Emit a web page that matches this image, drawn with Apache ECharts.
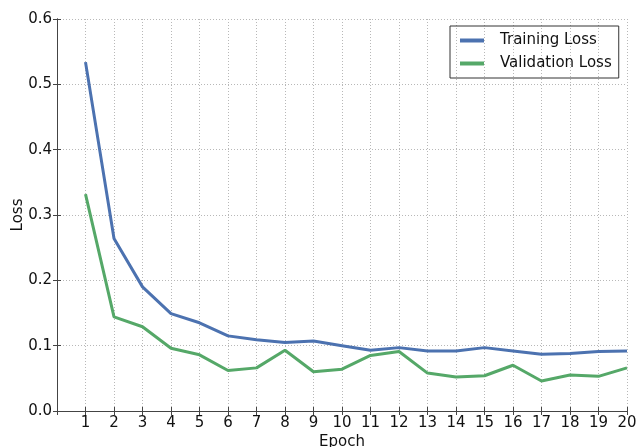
<!DOCTYPE html>
<html>
<head>
<meta charset="utf-8">
<script src="https://cdn.jsdelivr.net/npm/echarts@6/dist/echarts.min.js"></script>
<style>html,body{margin:0;padding:0;background:#fff;}#c{width:637px;height:447px;}</style>
</head>
<body>
<div id="c"></div>
<script>
const epochs = [1,2,3,4,5,6,7,8,9,10,11,12,13,14,15,16,17,18,19,20];
const trainingLoss = [0.534,0.264,0.190,0.149,0.135,0.115,0.109,0.105,0.107,0.100,0.093,0.097,0.092,0.092,0.097,0.092,0.087,0.088,0.091,0.092];
const validationLoss = [0.332,0.144,0.129,0.096,0.086,0.062,0.066,0.093,0.060,0.064,0.085,0.091,0.058,0.052,0.054,0.070,0.046,0.055,0.053,0.066];
const seriesNames = ['Training Loss','Validation Loss'];
const xLabel = 'Epoch';
const yLabel = 'Loss';

const font = 'DejaVu Sans';
const fs = 15;
const axisColor = '#444';
const chart = echarts.init(document.getElementById('c'), null, {renderer:'canvas'});
const grid = {left:57, right:10, top:19, bottom:36, containLabel:false, outerBoundsMode:'none'};
const gridLine = {show:true, lineStyle:{color:'#b8b8b8', type:[1,2], width:1}};
chart.setOption({
  animation:false,
  backgroundColor:'#fff',
  grid: grid,
  legend: {
    orient:'vertical', left:450, top:26,
    borderColor:'#333', borderWidth:1,
    padding:[7,7,7,10], itemGap:8,
    icon:'rect', itemWidth:24, itemHeight:4,
    textStyle:{fontFamily:font, fontSize:fs, color:'#111', padding:[0,0,0,11]},
    data: seriesNames
  },
  xAxis: [{
    type:'value', min:0, max:20, interval:1,
    name:xLabel, nameLocation:'middle', nameGap:24, nameMoveOverlap:false,
    nameTextStyle:{fontFamily:font, fontSize:fs, color:'#111'},
    axisLine:{show:true, lineStyle:{color:axisColor, width:1}},
    axisTick:{show:true, inside:true, length:4, lineStyle:{color:axisColor}},
    axisLabel:{fontFamily:font, fontSize:fs, color:'#111', margin:5,
      formatter: v => (v >= 1 && epochs.indexOf(v) >= 0) ? String(v) : ''},
    splitLine: gridLine
  },{
    type:'value', min:0, max:20, interval:1, position:'top',
    axisLine:{show:true, lineStyle:{color:axisColor, width:1}},
    axisTick:{show:true, inside:true, length:4, lineStyle:{color:axisColor}},
    axisLabel:{show:false}, splitLine:{show:false}
  }],
  yAxis: [{
    type:'value', min:0, max:0.6, interval:0.1,
    name:yLabel, nameLocation:'middle', nameGap:31, nameMoveOverlap:false,
    nameTextStyle:{fontFamily:font, fontSize:fs, color:'#111'},
    axisLine:{show:true, lineStyle:{color:axisColor, width:1}},
    axisTick:{show:true, inside:true, length:4, lineStyle:{color:axisColor}},
    axisLabel:{fontFamily:font, fontSize:fs, color:'#111', margin:5, formatter: v => v.toFixed(1)},
    splitLine: gridLine
  },{
    type:'value', min:0, max:0.6, interval:0.1, position:'right',
    axisLine:{show:true, lineStyle:{color:axisColor, width:1}},
    axisTick:{show:true, inside:true, length:4, lineStyle:{color:axisColor}},
    axisLabel:{show:false}, splitLine:{show:false}
  }],
  series: [
    {name:seriesNames[0], type:'line', showSymbol:false, symbol:'none',
     data: epochs.map((e,i)=>[e, trainingLoss[i]]),
     lineStyle:{color:'#4c72b0', width:3}, itemStyle:{color:'#4c72b0'}},
    {name:seriesNames[1], type:'line', showSymbol:false, symbol:'none',
     data: epochs.map((e,i)=>[e, validationLoss[i]]),
     lineStyle:{color:'#55a868', width:3}, itemStyle:{color:'#55a868'}}
  ]
});
</script>
</body>
</html>
